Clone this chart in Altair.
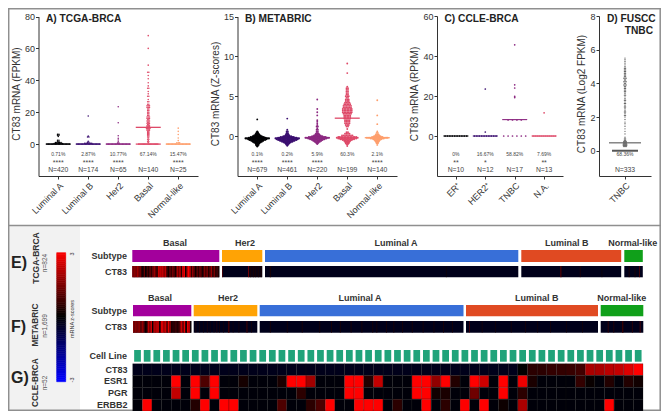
import altair as alt
import pandas as pd

W, H = 653, 403
FONT = "Liberation Sans"
INK = "#333333"
FRAME = "#8f8f8f"
MAGMA = ["#000004", "#3b0f70", "#8c2981", "#de4968", "#fe9f6d"]


def P(v):  # page pixel in the reference -> chart pixel
    return v - 8


# ---------- data: rows of (value, dots in the row) ----------
tcga_cats = ["Luminal A", "Luminal B", "Her2", "Basal", "Normal-like"]
tcga_rows = [
    [(0, 17), (0.4, 7), (0.9, 5), (1.5, 2), (2.4, 2), (4.8, 1), (5.5, 2), (6.1, 2)],
    [(0, 17), (0.5, 6), (1.2, 2), (1.8, 1), (4.4, 2), (5, 1), (17.6, 1)],
    [(0, 17), (0.6, 2), (1.4, 1), (2.6, 1), (3.6, 1), (5.2, 1), (13.4, 1), (23.4, 1)],
    [(0, 17), (0.8, 1), (1.5, 2), (2.3, 1), (3, 2), (3.8, 1), (4.5, 2), (5.2, 2), (6, 2), (6.6, 2),
     (7.3, 2), (8, 2), (8.7, 3), (9.4, 3), (10, 4), (10.8, 3), (11.5, 3), (12.2, 2), (13, 3), (13.7, 2),
     (14.5, 3), (15.3, 2), (16, 3), (17, 3), (18, 2), (19, 2), (20, 2), (21, 2), (22, 2), (23, 3),
     (24, 3), (25, 2), (26.5, 2), (28, 1), (30, 2), (31.5, 1), (33, 1), (35, 2), (36.5, 1), (38.5, 1),
     (41, 1), (43, 1), (45, 2), (49.5, 1), (60, 1), (68, 1)],
    [(0, 17), (0.8, 3), (2.2, 1), (3.8, 1), (6, 1), (8, 1), (10, 1)],
]
tcga_medians = [0, 0, 0, 10.5, 0]
tcga_extra_rules = [(3, 0)]
tcga_pct = ["0.71%", "2.87%", "10.77%", "67.14%", "15.47%"]
tcga_stars = ["****", "****", "****", "", "****"]
tcga_n = ["N=420", "N=174", "N=65", "N=140", "N=25"]

meta_cats = tcga_cats
meta_rows = [
    [(-1.3, 1), (-1.2, 2), (-1.1, 3), (-1, 3), (-0.9, 4), (-0.8, 6), (-0.7, 8), (-0.6, 10), (-0.5, 13), (-0.4, 15),
     (-0.3, 19), (-0.2, 14), (-0.1, 11), (0, 8), (0.1, 6), (0.2, 4), (0.3, 3), (0.4, 2), (0.5, 2), (0.6, 1), (2.1, 1)],
    [(-1.2, 1), (-1.1, 2), (-1, 3), (-0.9, 4), (-0.8, 6), (-0.7, 9), (-0.6, 12), (-0.5, 15), (-0.4, 17),
     (-0.3, 19), (-0.2, 15), (-0.1, 11), (0, 7), (0.1, 4), (0.2, 3), (0.3, 2), (0.4, 2), (0.6, 2), (0.8, 1), (2.2, 1)],
    [(-1, 1), (-0.9, 2), (-0.8, 3), (-0.7, 5), (-0.6, 7), (-0.5, 9), (-0.4, 12), (-0.3, 15), (-0.2, 19),
     (-0.1, 14), (0, 9), (0.1, 6), (0.2, 4), (0.3, 3), (0.4, 2), (0.6, 2), (0.8, 2), (1, 1), (1.2, 2), (1.4, 1),
     (1.6, 1), (1.8, 1), (2, 1), (2.6, 1), (3, 1), (3.4, 1), (4.6, 1)],
    [(9.1, 1), (7.9, 1), (6.2, 1), (6, 2), (5.8, 2), (5.6, 2), (5.4, 2), (5.2, 2), (5, 3), (4.8, 2), (4.6, 3), (4.4, 3),
     (4.2, 4), (4, 5), (3.8, 6), (3.6, 6), (3.4, 7), (3.2, 7), (3, 7), (2.8, 6), (2.6, 5), (2.4, 5), (2.2, 5), (2, 4),
     (1.8, 4), (1.6, 4), (1.4, 3), (1.2, 2), (0.9, 1), (0.5, 2), (0.3, 4), (0.1, 8), (-0.1, 13), (-0.2, 15), (-0.3, 13),
     (-0.4, 10), (-0.5, 7), (-0.6, 5), (-0.7, 4), (-0.8, 3), (-0.9, 3), (-1, 2), (-1.1, 1), (-1.25, 1)],
    [(4.5, 1), (2.6, 1), (1.5, 1), (0.6, 1), (0.4, 2), (0.2, 3), (0.1, 4), (0, 6), (-0.1, 9), (-0.2, 17), (-0.3, 11),
     (-0.4, 7), (-0.5, 5), (-0.6, 4), (-0.7, 3), (-0.8, 2), (-0.9, 2), (-1.1, 1)],
]
meta_medians = [-0.25, -0.25, -0.2, 2.25, -0.2]
meta_pct = ["0.1%", "0.2%", "5.9%", "60.3%", "2.1%"]
meta_stars = ["****", "****", "****", "", "****"]
meta_n = ["N=679", "N=461", "N=220", "N=199", "N=140"]

ccle_cats = ["ER\u207a", "HER2\u207a", "TNBC", "N.A."]
ccle_rows = [
    [(0, 10)],
    [(0, 10), (2, 1), (23.5, 1)],
    [(0, 6), (8, 4), (19.2, 1), (19.8, 1), (24, 1), (25.6, 1), (45.6, 1)],
    [(0, 12), (11.6, 1)],
]
ccle_medians = [0, 0, 8.2, 0]
ccle_pct = ["0%", "16.67%", "58.82%", "7.69%"]
ccle_stars = ["**", "*", "", "**"]
ccle_n = ["N=10", "N=12", "N=17", "N=13"]

fuscc_cats = ["TNBC"]
fuscc_rows = [[
    (0.25, 3), (0.3, 4), (0.35, 4), (0.4, 4), (0.45, 3), (0.5, 3), (0.55, 3), (0.6, 2), (0.7, 2), (0.8, 1),
    (1.0, 1), (1.15, 1), (1.3, 1), (1.45, 1), (1.6, 1), (1.7, 1), (1.85, 1), (2.0, 1), (2.1, 2), (2.2, 1), (2.3, 2),
    (2.4, 1), (2.5, 1), (2.6, 2), (2.7, 1), (2.8, 2), (2.9, 1), (3.0, 2), (3.1, 1), (3.2, 1), (3.3, 2), (3.4, 1),
    (3.5, 2), (3.6, 2), (3.7, 2), (3.8, 2), (3.9, 3), (4.0, 2), (4.1, 3), (4.2, 2), (4.3, 3), (4.4, 2), (4.5, 2),
    (4.6, 2), (4.7, 2), (4.8, 2), (4.9, 2), (5.0, 1), (5.1, 1), (5.2, 1), (5.3, 1), (5.4, 1), (5.5, 1),
]]
fuscc_medians = [0.47]
fuscc_zero = 0
fuscc_pct = ["68.36%"]
fuscc_stars = [""]
fuscc_n = ["N=333"]

# ---------- heat strips: z-scores per stripe ----------
subtypes = ["Basal", "Her2", "Luminal A", "Luminal B", "Normal-like"]
subtype_colors = ["#a3009c", "#ffa305", "#386fd8", "#e04a22", "#10a01a"]
e_basal = [1.8, 1.6, 1.7, 1.9, 1.5, 1.7, 0.6, 0.3, 1.2, 0.1, 0.9, 0.4, 1.4, 0.5, 1.6, 1.8, 1.3, 0.8, 2.4, 2.8,
           2.0, 2.9, 1.7, 2.5, 0.7, 0.2, 1.4, 0.6, 1.7, 0.9, 0.3, 2.2, 1.3, 2.7, 0.4, 3, 2.8, 0.2, 2.3, 3,
           2.9, 0.6, 2.1, 1.0, 0.2, 1.3, 0.5, 1.6, 0.8, 0.3, 1.5, 0.9, 1.7, 0.4, 1.2, 1.8, 0.7, 1.4, 0.5, 0.9, 0.3]
f_basal = [1.5, 1.7, 1.4, 1.8, 1.6, 1.3, 1.7, 1.5, 0.1, 0.4, 2.2, 1.6, 2.7, 0.1, 2.4, 1.9, 2.8, 2.2, 0.2, 2.6,
           2.9, 2.0, 2.5, 1.2, 2.7, 1.9, 0.3, 0.6, 0.5, 0.9, 0.4, 0.7, 1.6, 2.6, 1.4, 2.8, 0.1, 2.7, 2.9, 0.2]
# (stripe position among the samples of the segment, z-score)
e_sparse = {
    "Her2": (65, [(0, 1.2), (42, 2.9)] + [(i, 0.35) for i in (43, 45, 46, 48, 50, 51, 53, 54, 56, 58, 59, 61, 63)]),
    "Luminal A": (420, [(8, 0.5), (9, 0.3), (300, 0.2)]),
    "Luminal B": (174, [(68, 1.2), (69, 0.8), (102, 0.5), (140, 0.2)]),
    "Normal-like": (25, [(6, 0.4), (14, 0.3), (20, 1.0)]),
}
f_sparse = {
    "Her2": (130, [(4, 0.5), (12, 0.4), (20, 0.3), (27, 0.6), (33, 0.4), (41, 0.5), (47, 0.8), (52, 0.4), (60, 0.3),
                   (70, 0.5), (71, 1.2), (72, 0.9), (80, 0.3), (92, 0.4), (108, 0.9), (109, 0.7), (118, 0.3)]),
    "Luminal A": (300, [(i, 0.35) for i in (15, 40, 62, 88, 105, 118, 134, 150, 166, 172, 186, 197, 210, 224, 240, 256, 270, 283)]),
    "Luminal B": (250, [(6, 1.2), (30, 0.4), (55, 0.3), (85, 0.35), (112, 0.4), (135, 0.3), (160, 0.35), (190, 0.3), (220, 0.3)]),
    "Normal-like": (60, [(10, 0.7), (18, 0.5), (30, 0.9), (31, 0.5), (44, 0.6), (55, 1.1)]),
}

g_rows = ["CT83", "ESR1", "PGR", "ERBB2"]
g_n = 53
g_z = {
    "CT83": {40: 0, 41: 0.5, 42: 0.5, 43: 0.6, 44: 0.6, 45: 0.65, 46: 0.75, 47: 2.0, 48: 2.0, 49: 2.2, 50: 2.3, 51: 2.6, 52: 3},
    "ESR1": {4: 3, 6: 3, 7: 0.9, 8: 3, 11: 0.25, 15: 0.3, 16: 3, 17: 3, 18: 1.9, 22: 3, 23: 3, 24: 0.4, 25: 2.3,
             29: 3, 30: 3, 31: 1.7, 32: 3, 33: 0.4, 35: 3, 36: 2.4, 38: 3, 40: 2.8, 41: 0.3, 46: 0.6, 47: 0.1, 49: 0.4, 51: 0.4, 52: 0.2},
    "PGR": {4: 2.3, 6: 3, 8: 3, 17: 0.5, 22: 3, 23: 3, 29: 3, 30: 3, 31: 0.2, 32: 0.3, 35: 1.3, 38: 3, 40: 0.5},
    "ERBB2": {1: 3, 6: 0.4, 7: 3, 9: 3, 10: 3, 15: 0.9, 18: 0.5, 19: 0.9, 20: 3, 23: 3, 24: 3, 25: 3, 27: 0.5, 30: 3,
              32: 0.5, 34: 3, 36: 3, 38: 0.15, 40: 2.0, 49: 3},
}
g_base = {"CT83": -0.3, "ESR1": -0.1, "PGR": -0.1, "ERBB2": -0.1}

colorbar_z = [round(-3 + 0.1 * i, 1) for i in range(60)]

# ---------- layout (reference pixels) ----------
layers = []
Z_SCALE = alt.Scale(domain=[-3, 0, 3], range=["#0000ff", "#000000", "#ff0000"], interpolate="rgb")


def text(t, x, y, size=9, bold=False, angle=0, align="center", color=INK):
    kw = dict(text=t, fontSize=size, font=FONT, align=align, baseline="middle", color=color, angle=angle)
    if bold:
        kw["fontWeight"] = "bold"
    layers.append(alt.Chart(pd.DataFrame({"a": [0]})).mark_text(**kw).encode(x=alt.value(P(x)), y=alt.value(P(y))))


def hline(x1, x2, y, w=1.5):
    layers.append(alt.Chart(pd.DataFrame({"a": [0]})).mark_rule(color=FRAME, strokeWidth=w).encode(
        x=alt.value(P(x1)), x2=alt.value(P(x2)), y=alt.value(P(y))))


def vline(x, y1, y2, w=1.5):
    layers.append(alt.Chart(pd.DataFrame({"a": [0]})).mark_rule(color=FRAME, strokeWidth=w).encode(
        x=alt.value(P(x)), y=alt.value(P(y1)), y2=alt.value(P(y2))))


def panel(cats, rows, medians, pct, stars, ns, left, right, ymin, ymax, ticks, ytop, step, colors,
          spacings, dot, halfw, extra=(), med_w=1.3, opacity=1.0):
    n = len(cats)
    pad = (right - left - step * (n - 1)) / 2 / step
    xs = alt.Scale(domain=[-pad, n - 1 + pad], range=[P(left), P(right)], nice=False, zero=False)
    ys = alt.Scale(domain=[ymin, ymax], range=[P(176), P(ytop)], nice=False, zero=False)
    pts = []
    for i, rws in enumerate(rows):
        sp = spacings[i]
        for v, c in rws:
            for j in range(c):
                pts.append({"x": i + (j - (c - 1) / 2) * sp / step, "y": v, "g": colors[i]})
    ax = alt.Axis(orient="bottom", offset=P(176) - H, values=list(range(n)),
                  labelExpr="[" + ",".join("'%s'" % c for c in cats) + "][datum.value]",
                  labelAngle=-45, labelAlign="right", labelBaseline="top", labelFont=FONT, labelFontSize=9,
                  labelColor=INK, tickColor=INK, domainColor=INK, tickSize=3, labelPadding=2, title=None,
                  grid=False, labelOverlap=False)
    ay = alt.Axis(orient="left", offset=-P(left), values=ticks, labelFont=FONT, labelFontSize=9, labelColor=INK,
                  tickColor=INK, domainColor=INK, tickSize=3, labelPadding=1, title=None, grid=False, labelOverlap=False)
    layers.append(alt.Chart(pd.DataFrame(pts)).mark_point(filled=True, size=dot, opacity=opacity, stroke=None).encode(
        x=alt.X("x:Q", scale=xs, axis=ax), y=alt.Y("y:Q", scale=ys, axis=ay),
        color=alt.Color("g:N", scale=None, legend=None)))
    meds = [{"x": i - halfw / step, "x2": i + halfw / step, "y": m, "g": colors[i]} for i, m in enumerate(medians)]
    meds += [{"x": i - halfw / step, "x2": i + halfw / step, "y": m, "g": colors[i]} for i, m in extra]
    layers.append(alt.Chart(pd.DataFrame(meds)).mark_rule(strokeWidth=med_w).encode(
        x=alt.X("x:Q", scale=xs, axis=None), x2="x2:Q", y=alt.Y("y:Q", scale=ys, axis=None),
        color=alt.Color("g:N", scale=None, legend=None)))
    for labels, py, size in ((pct, 154, 5), (stars, 163, 7), (ns, 170, 6.8)):
        df = pd.DataFrame({"x": list(range(n)), "t": labels})
        layers.append(alt.Chart(df).mark_text(fontSize=size, font=FONT, color="#444444", baseline="middle").encode(
            x=alt.X("x:Q", scale=xs, axis=None), y=alt.value(P(py)), text="t:N"))
    return xs, ys


# backgrounds and frame
layers.append(alt.Chart(pd.DataFrame({"a": [0]})).mark_rect(color="#f2f2f2").encode(
    x=alt.value(0), x2=alt.value(P(80)), y=alt.value(P(226)), y2=alt.value(H)))
hline(8, 661, 8.7)
hline(8, 661, 225.5)
hline(8, 661, 410.2)
vline(8.7, 8, 411)
vline(660.2, 8, 411)

panel(tcga_cats, tcga_rows, tcga_medians, tcga_pct, tcga_stars, tcga_n, 38.5, 198, -20, 80, [0, 20, 40, 60, 80], 16.5, 30,
      MAGMA, [1.4, 1.4, 1.4, 1.2, 1.4], 2.5, 12.5, extra=tcga_extra_rules)
panel(meta_cats, meta_rows, meta_medians, meta_pct, meta_stars, meta_n, 237.5, 397, -5, 15, [0, 5, 10, 15], 16.5, 30,
      MAGMA, [1.3, 1.3, 1.3, 1.5, 1.3], 3.5, 12.5)
panel(ccle_cats, ccle_rows, ccle_medians, ccle_pct, ccle_stars, ccle_n, 437, 563, -20, 60, [0, 20, 40, 60], 16, 29.4,
      MAGMA, [2.4, 2.4, 4.4, 2.0], 3, 12.5, med_w=1.1)
dxs, dys = panel(fuscc_cats, fuscc_rows, fuscc_medians, fuscc_pct, fuscc_stars, fuscc_n, 599, 651, -1.5, 8,
                 [0, 2, 4, 6, 8], 16, 40, ["#666666"], [1.1], 2, 16, med_w=1.2)
layers.append(alt.Chart(pd.DataFrame({"x": [-13 / 40], "x2": [13 / 40], "y": [fuscc_zero]})).mark_rule(
    strokeWidth=2, color="#555555").encode(
    x=alt.X("x:Q", scale=dxs, axis=None), x2="x2:Q", y=alt.Y("y:Q", scale=dys, axis=None)))

text("A) TCGA-BRCA", 46, 19, 10.2, True, align="left", color="#222222")
text("B) METABRIC", 245, 19, 10.2, True, align="left", color="#222222")
text("C) CCLE-BRCA", 444.5, 19, 10.2, True, align="left", color="#222222")
text("D) FUSCC", 607, 19, 10.2, True, align="left", color="#222222")
text("TNBC", 624.7, 31, 10.2, True, align="left", color="#222222")
text("CT83 mRNA (FPKM)", 17, 94, 10, angle=270)
text("CT83 mRNA (Z-scores)", 216, 94, 10, angle=270)
text("CT83 mRNA (RPKM)", 415, 94, 10, angle=270)
text("CT83 mRNA (Log2 FPKM)", 582, 94, 10, angle=270)


def strip_row(segments, sub_y, ct_y, label_y, dense, sparse):
    for k, name in enumerate(subtypes):
        a, b = segments[k]
        if name in dense:
            zs = dense[name]
            n = len(zs)
            st = [{"s": i, "e": i + 1, "z": z} for i, z in enumerate(zs)]
        else:
            n, lst = sparse[name]
            st = [{"s": i, "e": i + 1, "z": z} for i, z in lst]
        xs = alt.Scale(domain=[0, n], range=[P(a), P(b)], nice=False, zero=False)
        seg = pd.DataFrame({"s": [0], "e": [n], "m": [n / 2], "z": [-0.3], "t": [name], "c": [subtype_colors[k]]})
        layers.append(alt.Chart(seg).mark_rect().encode(
            x=alt.X("s:Q", scale=xs, axis=None), x2="e:Q",
            y=alt.value(P(sub_y[0])), y2=alt.value(P(sub_y[1])), color=alt.Color("c:N", scale=None, legend=None)))
        layers.append(alt.Chart(seg).mark_rect().encode(
            x=alt.X("s:Q", scale=xs, axis=None), x2="e:Q",
            y=alt.value(P(ct_y[0])), y2=alt.value(P(ct_y[1])), color=alt.Color("z:Q", scale=Z_SCALE, legend=None)))
        layers.append(alt.Chart(pd.DataFrame(st)).mark_rect().encode(
            x=alt.X("s:Q", scale=xs, axis=None), x2="e:Q",
            y=alt.value(P(ct_y[0])), y2=alt.value(P(ct_y[1])), color=alt.Color("z:Q", scale=Z_SCALE, legend=None)))
        text(name, label_y[k], label_y[5], 9, True)


strip_row([(132.3, 219.3), (222, 262.3), (265, 518.3), (521.3, 621.2), (624.3, 642.8)], (250, 262), (266, 277.3),
          [175, 245, 396, 566.7, 632.7, 243], {"Basal": e_basal}, e_sparse)
strip_row([(133, 191.3), (193.7, 257.3), (259.7, 463.5), (466, 598), (600.7, 643.3)], (305, 316.3), (321, 332.7),
          [160, 228, 360, 536.7, 621.7, 298], {"Basal": f_basal}, f_sparse)
for name, y in (("Subtype", 255.5), ("CT83", 271.5), ("Subtype", 310.5), ("CT83", 327), ("Cell Line", 355.5)):
    text(name, 127, y, 9, True, align="right")

# G: cell-line strip and heat map
gx = alt.Scale(domain=list(range(g_n)), range=[P(132.7), P(643)], paddingInner=0.3, paddingOuter=0.15)
layers.append(alt.Chart(pd.DataFrame({"c": list(range(g_n))})).mark_rect(color="#20a37a").encode(
    x=alt.X("c:O", scale=gx, axis=None), y=alt.value(P(350)), y2=alt.value(P(361.7))))
cells = []
for r in g_rows:
    for c in range(g_n):
        cells.append({"c": c, "e": c + 1, "r": r, "z": g_z[r].get(c, g_base[r])})
layers.append(alt.Chart(pd.DataFrame(cells)).mark_rect(stroke="#141414", strokeWidth=0.25).encode(
    x=alt.X("c:Q", scale=alt.Scale(domain=[0, g_n], range=[P(132.7), P(643)], nice=False, zero=False), axis=None),
    x2="e:Q",
    y=alt.Y("r:N", scale=alt.Scale(domain=g_rows, range=[P(363.7), P(411)], paddingInner=0, paddingOuter=0),
            axis=alt.Axis(orient="left", offset=-P(127), domain=False, ticks=False, labelPadding=0, title=None,
                          labelFont=FONT, labelFontSize=9, labelFontWeight="bold", labelColor=INK)),
    color=alt.Color("z:Q", scale=Z_SCALE, legend=None)))

# colour bar
cb = pd.DataFrame({"z": colorbar_z, "z2": [round(z + 0.1, 1) for z in colorbar_z]})
cbs = alt.Scale(domain=[-3, 3], range=[P(381.7), P(252.7)], nice=False, zero=False)
layers.append(alt.Chart(cb).mark_rect(strokeWidth=0.6).encode(
    x=alt.value(P(56.7)), x2=alt.value(P(65.7)),
    y=alt.Y("z:Q", scale=cbs, axis=None), y2="z2:Q",
    color=alt.Color("z:Q", scale=Z_SCALE, legend=None), stroke=alt.Stroke("z:Q", scale=Z_SCALE, legend=None)))
text("3", 72, 254, 5.5, angle=270)
text("-3", 72, 380, 5.5, angle=270)
text("mRNA z-scores", 72, 319, 5.5, angle=270)

for t, y, in (("E)", 263), ("F)", 326.7), ("G)", 378)):
    text(t, 11, y, 16, True, align="left", color="#222222")
text("TCGA-BRCA", 36, 258, 8.5, True, angle=270)
text("n=824", 45, 263, 6.5, angle=270, color="#555555")
text("METABRIC", 36, 325, 8.3, True, angle=270)
text("n=1,699", 45, 326, 6.5, angle=270, color="#555555")
text("CCLE-BRCA", 36, 382.7, 8.2, True, angle=270)
text("n=52", 45, 383, 6.5, angle=270, color="#555555")

chart = alt.layer(*layers).resolve_scale(x="independent", y="independent", color="independent", stroke="independent").properties(
    width=W, height=H, padding=0, autosize=alt.AutoSizeParams(type="none"), background="white",
).configure_view(stroke=None)

chart.save("out.html", embed_options={"renderer": "svg", "actions": False})
